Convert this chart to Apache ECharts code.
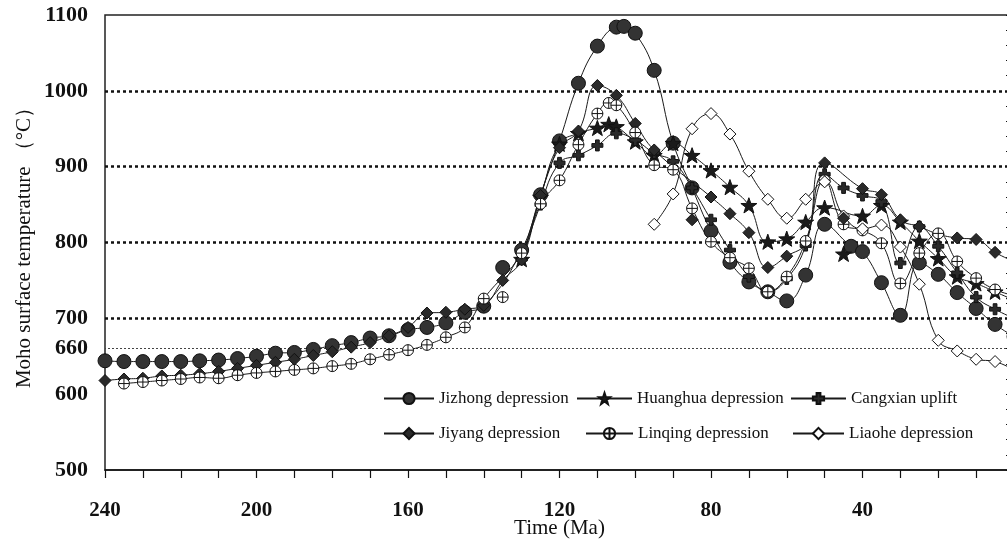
<!DOCTYPE html>
<html lang="en">
  <head>
    <meta charset="UTF-8" />
    <title>Moho surface temperature</title>
    <script src="https://cdn.jsdelivr.net/npm/echarts@6/dist/echarts.min.js"></script>
    <style>
      html, body { margin: 0; padding: 0; background: #fff; }
      #chart { width: 1007px; height: 541px; }
    </style>
  </head>
  <body>
    <div id="chart"></div>
    <script>
      // time (Ma) and temperature (°C)
      var jzT = [240, 235, 230, 225, 220, 215, 210, 205, 200, 195, 190, 185, 180, 175, 170, 165, 160, 155, 150, 145, 140, 130, 125, 120, 115, 110, 105, 103, 100, 95, 90, 85, 80, 75, 70, 65, 60, 55, 50, 43, 40, 35, 30, 25, 20, 15, 10, 5, 0];
      var jzV = [644, 643, 643, 643, 643, 644, 645, 647, 650, 654, 655, 659, 664, 668, 674, 677, 685, 688, 694, 708, 716, 790, 863, 934, 1010, 1059, 1084, 1085, 1076, 1027, 931, 872, 815, 774, 748, 735, 723, 757, 824, 795, 788, 747, 704, 773, 758, 734, 713, 692, 676];
      var jzOffT = [135];
      var jzOffV = [767];

      var hhT = [130, 125, 120, 115, 110, 107, 105, 100, 95, 90, 85, 80, 75, 70, 65, 60, 55, 50, 40, 35, 30, 25, 20, 15, 10, 5, 0];
      var hhV = [778, 860, 930, 944, 951, 956, 953, 933, 915, 931, 915, 895, 873, 849, 801, 805, 827, 846, 835, 849, 827, 802, 779, 755, 746, 735, 724];
      var hhOffT = [45];
      var hhOffV = [785];

      var cxT = [130, 125, 120, 115, 110, 105, 100, 95, 90, 85, 80, 75, 70, 65, 60, 55, 50, 45, 40, 35, 30, 25, 20, 15, 10, 5, 0];
      var cxV = [778, 850, 905, 915, 928, 944, 935, 918, 907, 872, 830, 790, 755, 735, 752, 796, 890, 872, 862, 854, 773, 821, 795, 760, 728, 712, 700];

      var jyT = [240, 235, 230, 225, 220, 215, 210, 205, 200, 195, 190, 185, 180, 175, 170, 165, 160, 155, 150, 145, 140, 135, 130, 125, 120, 115, 110, 105, 100, 95, 80, 75, 70, 65, 60, 55, 50, 40, 35, 30, 25, 20, 15, 10, 5, 0];
      var jyV = [618, 620, 621, 624, 625, 627, 630, 634, 638, 642, 646, 651, 656, 662, 668, 677, 688, 707, 708, 712, 717, 750, 777, 862, 925, 947, 1007, 994, 957, 922, 860, 838, 813, 767, 782, 800, 905, 871, 863, 830, 821, 811, 806, 804, 787, 775];
      var jyOffT = [85, 45];
      var jyOffV = [830, 832];

      var lqT = [235, 230, 225, 220, 215, 210, 205, 200, 195, 190, 185, 180, 175, 170, 165, 160, 155, 150, 145, 140, 130, 125, 120, 115, 110, 107, 105, 100, 95, 90, 85, 80, 75, 70, 65, 60, 55, 50, 45, 40, 35, 30, 25, 20, 15, 10, 5, 0];
      var lqV = [614, 616, 618, 620, 622, 621, 625, 628, 630, 632, 634, 637, 640, 646, 652, 658, 665, 675, 688, 726, 786, 851, 882, 929, 970, 984, 981, 945, 902, 896, 845, 801, 780, 766, 735, 755, 802, 882, 824, 816, 799, 746, 786, 812, 775, 753, 738, 730];
      var lqOffT = [135];
      var lqOffV = [728];

      var lhT = [95, 90, 85, 80, 75, 70, 65, 60, 55, 50, 45, 40, 35, 30, 25, 20, 15, 10, 5, 0];
      var lhV = [824, 864, 950, 970, 943, 894, 857, 832, 857, 880, 835, 818, 823, 794, 745, 671, 657, 646, 643, 632];

      var refLines = [700, 800, 900, 1000];
      var thinRef = [660];
      var yLabels = [500, 600, 660, 700, 800, 900, 1000, 1100];

      var serif = "'Liberation Serif', 'DejaVu Serif', serif";
      var sym = {
        star: "path://M10,0 L12.35,6.76 L19.51,6.91 L13.8,11.24 L15.88,18.09 L10,14 L4.12,18.09 L6.2,11.24 L0.49,6.91 L7.65,6.76 Z",
        plus: "path://M3.3,0 L6.7,0 L6.7,3.3 L10,3.3 L10,6.7 L6.7,6.7 L6.7,10 L3.3,10 L3.3,6.7 L0,6.7 L0,3.3 L3.3,3.3 Z",
        oplus: "path://M0,10 A10,10 0 1,1 20,10 A10,10 0 1,1 0,10 Z M10,0 L10,20 M0,10 L20,10",
      };

      function pairs(t, v) {
        return t.map(function (x, i) { return [x, v[i]]; });
      }

      function lineSeries(name, t, v, symbol, size, fill) {
        return {
          name: name,
          type: "line",
          smooth: 0.45,
          data: pairs(t, v),
          symbol: symbol,
          symbolSize: size,
          symbolKeepAspect: true,
          lineStyle: { color: "#1a1a1a", width: 1 },
          itemStyle: { color: fill, borderColor: "#111", borderWidth: 1 },
          emphasis: { disabled: true },
          z: 3,
        };
      }

      function offSeries(name, t, v, symbol, size, fill) {
        return {
          name: name,
          type: "scatter",
          data: pairs(t, v),
          symbol: symbol,
          symbolSize: size,
          symbolKeepAspect: true,
          itemStyle: { color: fill, borderColor: "#111", borderWidth: 1, opacity: 1 },
          emphasis: { disabled: true },
          z: 3,
        };
      }

      var legendBase = {
        orient: "horizontal",
        padding: 0,
        itemHeight: 14,
        selectedMode: false,
        textStyle: { fontFamily: serif, fontSize: 17, color: "#111" },
      };
      function legendAt(name, left, top, w) {
        return Object.assign({}, legendBase, { data: [name], left: left, top: top, itemWidth: w });
      }

      var jzSeries = lineSeries("Jizhong depression", jzT, jzV, "circle", 14, "#333");
      jzSeries.markLine = {
        silent: true,
        symbol: ["none", "none"],
        label: { show: false },
        data: refLines
          .map(function (y) {
            return { yAxis: y, lineStyle: { type: [3, 3], width: 2.5, color: "#111" } };
          })
          .concat(
            thinRef.map(function (y) {
              return { yAxis: y, lineStyle: { type: [2, 2], width: 1, color: "#444" } };
            })
          ),
        z: 1,
      };

      var chart = echarts.init(document.getElementById("chart"));
      chart.setOption({
        animation: false,
        backgroundColor: "#fff",
        grid: {
          left: 105,
          top: 15,
          width: 909,
          height: 455,
          outerBoundsMode: "none",
          containLabel: false,
          show: true,
          borderColor: "#222",
          borderWidth: 1.5,
        },
        legend: [
          legendAt("Jizhong depression", 383, 390, 50),
          legendAt("Huanghua depression", 576, 390, 55),
          legendAt("Cangxian uplift", 790, 390, 55),
          legendAt("Jiyang depression", 383, 425, 50),
          legendAt("Linqing depression", 585, 425, 47),
          legendAt("Liaohe depression", 792, 425, 51),
        ],
        xAxis: {
          type: "value",
          inverse: true,
          min: 0,
          max: 240,
          interval: 10,
          name: "Time (Ma)",
          nameLocation: "middle",
          nameGap: 48,
          nameMoveOverlap: false,
          nameTextStyle: { fontFamily: serif, fontSize: 21, color: "#111" },
          axisLine: { lineStyle: { color: "#111", width: 1.5 } },
          axisTick: { length: 8, lineStyle: { color: "#111", width: 1.2 } },
          axisLabel: {
            margin: 30,
            fontFamily: serif,
            fontSize: 21,
            fontWeight: "bold",
            color: "#111",
            formatter: function (v) { return v % 40 === 0 ? String(v) : ""; },
          },
          splitLine: { show: false },
        },
        yAxis: {
          type: "value",
          min: 500,
          max: 1100,
          interval: 20,
          name: "Moho surface temperature （°C）",
          nameLocation: "middle",
          nameGap: 70,
          nameMoveOverlap: false,
          nameTextStyle: { fontFamily: serif, fontSize: 21, color: "#111" },
          axisLine: { show: true, lineStyle: { color: "#111", width: 1.5 } },
          axisTick: { length: 8, lineStyle: { color: "#111", width: 1.2 } },
          axisLabel: {
            margin: 17,
            fontFamily: serif,
            fontSize: 22,
            fontWeight: "bold",
            color: "#111",
            formatter: function (v) { return yLabels.indexOf(v) >= 0 ? String(v) : ""; },
          },
          splitLine: { show: false },
        },
        series: [
          jzSeries,
          lineSeries("Huanghua depression", hhT, hhV, sym.star, 16, "#1a1a1a"),
          lineSeries("Cangxian uplift", cxT, cxV, sym.plus, 11, "#2a2a2a"),
          lineSeries("Jiyang depression", jyT, jyV, "diamond", 12, "#2a2a2a"),
          lineSeries("Linqing depression", lqT, lqV, sym.oplus, 11, "#fff"),
          lineSeries("Liaohe depression", lhT, lhV, "diamond", 12, "#fff"),
          offSeries("jz-off", jzOffT, jzOffV, "circle", 14, "#333"),
          offSeries("hh-off", hhOffT, hhOffV, sym.star, 16, "#1a1a1a"),
          offSeries("jy-off", jyOffT, jyOffV, "diamond", 12, "#2a2a2a"),
          offSeries("lq-off", lqOffT, lqOffV, sym.oplus, 11, "#fff"),
        ],
      });
    </script>
  </body>
</html>
